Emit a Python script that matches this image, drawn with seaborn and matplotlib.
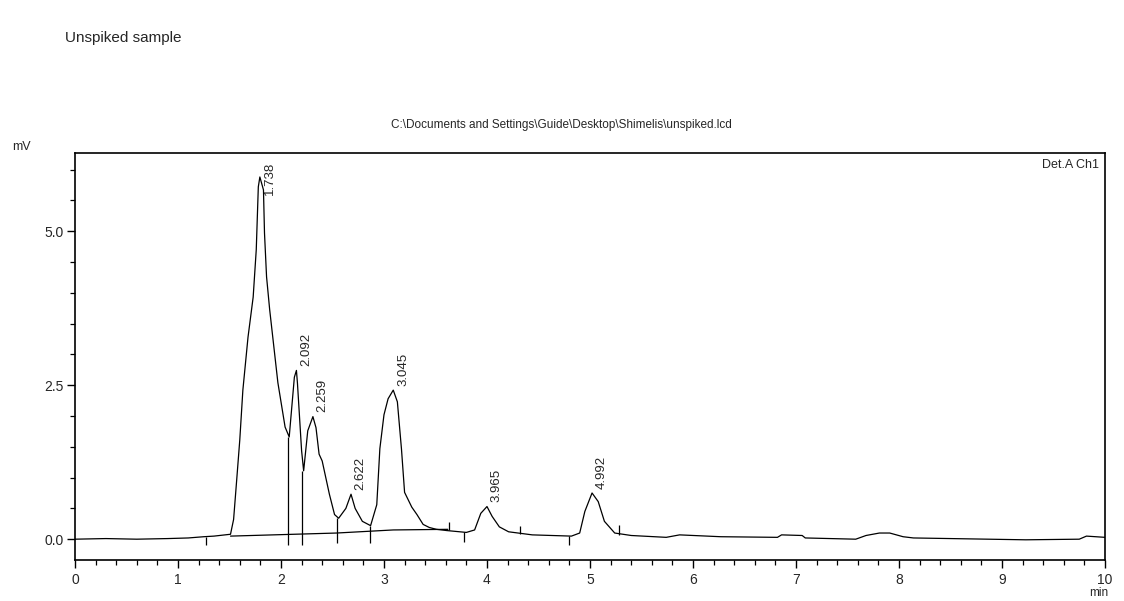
import numpy as np
import pandas as pd
import matplotlib
matplotlib.use("Agg")
import matplotlib.pyplot as plt
from matplotlib.ticker import MultipleLocator, FixedLocator
import seaborn as sns

# chromatogram trace (time in min, signal in mV)
trace_time = [0.00, 0.30, 0.60, 0.90, 1.10, 1.25, 1.35, 1.51, 1.54, 1.57,
              1.60, 1.63, 1.68, 1.73, 1.76, 1.78, 1.795, 1.83, 1.84, 1.86,
              1.89, 1.97, 2.04, 2.08, 2.13, 2.15, 2.16, 2.20, 2.22, 2.26,
              2.31, 2.34, 2.37, 2.40, 2.47, 2.52, 2.56, 2.63, 2.68, 2.72,
              2.79, 2.87, 2.93, 2.96, 3.00, 3.04, 3.09, 3.13, 3.17, 3.20,
              3.27, 3.32, 3.38, 3.44, 3.51, 3.61, 3.80, 3.88, 3.94, 4.00,
              4.05, 4.12, 4.21, 4.44, 4.82, 4.90, 4.95, 5.02, 5.08, 5.14,
              5.24, 5.40, 5.74, 5.87, 6.27, 6.82, 6.86, 7.06, 7.09, 7.58,
              7.68, 7.81, 7.91, 8.04, 8.14, 9.23, 9.75, 9.82, 10.00]
trace_mv = [0.00, 0.01, 0.00, 0.01, 0.02, 0.04, 0.05, 0.08, 0.32, 0.96,
            1.61, 2.42, 3.28, 3.93, 4.70, 5.72, 5.88, 5.67, 4.97, 4.26,
            3.73, 2.54, 1.82, 1.66, 2.63, 2.74, 2.53, 1.44, 1.11, 1.76,
            1.99, 1.81, 1.38, 1.27, 0.73, 0.40, 0.34, 0.50, 0.73, 0.50,
            0.29, 0.22, 0.56, 1.47, 2.02, 2.28, 2.42, 2.23, 1.46, 0.76,
            0.52, 0.40, 0.24, 0.19, 0.16, 0.14, 0.11, 0.15, 0.42, 0.53,
            0.37, 0.20, 0.12, 0.07, 0.05, 0.10, 0.45, 0.75, 0.61, 0.29,
            0.10, 0.06, 0.03, 0.07, 0.04, 0.03, 0.07, 0.06, 0.02, 0.00,
            0.06, 0.10, 0.10, 0.04, 0.02, -0.01, 0.00, 0.05, 0.03]

# integration baseline under the first peak cluster
base_time = [1.51, 2.54, 3.09, 3.62]
base_mv = [0.05, 0.10, 0.15, 0.16]

# peak drop lines
drop_time = [2.07, 2.20, 2.54, 2.86]
drop_top = [1.66, 1.11, 0.34, 0.22]
drop_bottom = [-0.10, -0.10, -0.06, -0.07]

# small integration event marks
mark_time = [1.27, 3.63, 3.78, 4.32, 4.80, 5.28]
mark_lo = [-0.10, 0.15, -0.05, 0.09, -0.09, 0.07]
mark_hi = [0.04, 0.28, 0.11, 0.22, 0.05, 0.23]

# peak retention time labels and where the apex sits in the trace
peak_label = ["1.738", "2.092", "2.259", "2.622", "3.045", "3.965", "4.992"]
peak_apex = [1.795, 2.15, 2.31, 2.68, 3.09, 4.00, 5.02]

x_ticks = [0, 1, 2, 3, 4, 5, 6, 7, 8, 9, 10]
y_ticks = [0.0, 2.5, 5.0]

sns.set_style("ticks")
plt.rcParams['font.family'] = ['Liberation Sans', 'DejaVu Sans']

df = pd.DataFrame({"time": trace_time, "mV": trace_mv})

fig = plt.figure(figsize=(11.24, 6.01), dpi=100)
ax = fig.add_axes([0.0667, 0.068, 0.9164, 0.6775])

sns.lineplot(data=df, x="time", y="mV", ax=ax, color="black",
             linewidth=0.9, estimator=None, sort=False)
ax.plot(base_time, base_mv, color="black", linewidth=0.9)
ax.vlines(drop_time, drop_bottom, drop_top, color="black", linewidth=0.9)
ax.vlines(mark_time, mark_lo, mark_hi, color="black", linewidth=0.9)

# peak labels, rotated like the instrument printout
apex_mv = np.interp(peak_apex, trace_time, trace_mv)
label_dy = [-13, 3, 3, 3, 3, 3, 3]
for lab, t, v, dy in zip(peak_label, peak_apex, apex_mv, label_dy):
    ax.annotate(lab, xy=(t, v), xytext=(7, dy), textcoords="offset points",
                rotation=90, ha="center", va="bottom", fontsize=9.5)

ax.set_xlim(0, 10)
ax.set_ylim(-0.34, 6.27)
ax.xaxis.set_major_locator(FixedLocator(x_ticks))
ax.xaxis.set_minor_locator(MultipleLocator(0.2))
ax.yaxis.set_major_locator(FixedLocator(y_ticks))
ax.yaxis.set_minor_locator(MultipleLocator(0.5))
ax.set_xticklabels([str(x) for x in x_ticks])
ax.set_yticklabels([f"{y:.1f}" for y in y_ticks])
ax.tick_params(which="major", length=6, width=1.0, labelsize=10, color="black")
ax.tick_params(which="minor", length=3.5, width=0.9, color="black")
ax.tick_params(axis="x", pad=3)
ax.tick_params(axis="y", pad=2)
ax.set_xlabel("")
ax.set_ylabel("")
for s in ax.spines.values():
    s.set_visible(True)
    s.set_linewidth(1.2)
    s.set_color("black")

ax.text(0.994, 0.985, "Det.A Ch1", transform=ax.transAxes,
        ha="right", va="top", fontsize=9)

fig.text(0.058, 0.937, "Unspiked sample", ha="left", va="center", fontsize=11)
fig.text(0.499, 0.792,
         "C:\\Documents and Settings\\Guide\\Desktop\\Shimelis\\unspiked.lcd",
         ha="center", va="center", fontsize=8.5)
fig.text(0.011, 0.755, "mV", ha="left", va="center", fontsize=9)
fig.text(0.986, 0.003, "min", ha="right", va="bottom", fontsize=8.5)

plt.savefig("out.png", dpi=100)
plt.close()
